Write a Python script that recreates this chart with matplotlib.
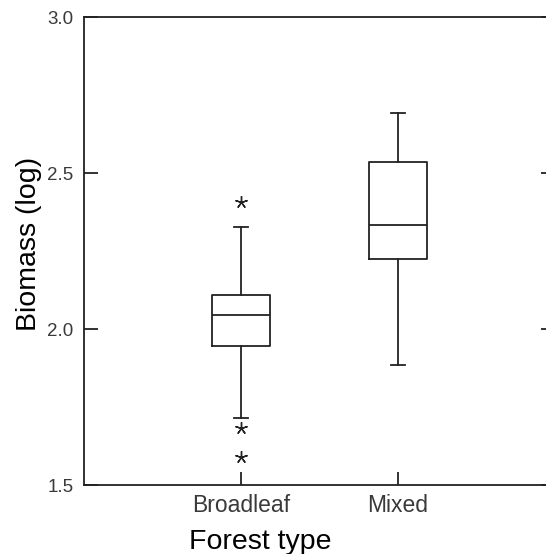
import matplotlib
matplotlib.use("Agg")
import matplotlib.pyplot as plt

# Box statistics (log biomass)
groups = ["Broadleaf", "Mixed"]
q1 = [1.947, 2.226]
med = [2.046, 2.333]
q3 = [2.110, 2.537]
whislo = [1.715, 1.887]
whishi = [2.327, 2.694]
fliers = [[2.409, 1.683, 1.592], []]

yticks = [1.5, 2.0, 2.5, 3.0]

plt.rcParams["font.family"] = ["Liberation Sans", "DejaVu Sans"]

fig = plt.figure(figsize=(5.46, 5.54), dpi=100)
ax = fig.add_axes([84 / 546, 1 - 485.3 / 554, 471 / 546, 468 / 554])

stats = []
for i, g in enumerate(groups):
    stats.append(dict(label=g, q1=q1[i], med=med[i], q3=q3[i],
                      whislo=whislo[i], whishi=whishi[i], fliers=fliers[i]))

lc = "#222222"
lw = 1.3
ax.bxp(stats, positions=[1, 2], widths=0.375, capwidths=0.083,
       boxprops=dict(color=lc, linewidth=lw),
       medianprops=dict(color=lc, linewidth=lw),
       whiskerprops=dict(color=lc, linewidth=lw),
       capprops=dict(color=lc, linewidth=lw),
       flierprops=dict(marker=(5, 2, 0), markersize=9, markeredgewidth=1.0,
                       markeredgecolor=lc, linestyle="none"))

ax.set_xlim(0, 3)
ax.set_ylim(1.5, 3.0)
ax.set_yticks(yticks)
ax.set_yticklabels([f"{v:.1f}" for v in yticks])
ax.set_xticks([1, 2])
ax.set_xticklabels(groups)

for s in ["left", "top", "bottom"]:
    ax.spines[s].set_linewidth(lw)
    ax.spines[s].set_color(lc)
ax.spines["right"].set_visible(False)

ax.tick_params(axis="y", direction="in", length=10, width=lw, color=lc,
               right=True, labelsize=13.5, labelcolor="#3a3a3a", pad=7.5)
ax.tick_params(axis="x", direction="in", length=9.5, width=lw, color=lc,
               labelsize=16.5, labelcolor="#3a3a3a", pad=6.5)

ax.set_xlabel("Forest type", fontsize=20.5, color="black")
ax.set_ylabel("Biomass (log)", fontsize=20.5, color="black")
ax.xaxis.set_label_coords((260 - 84) / 471, -0.093)
ax.yaxis.set_label_coords((42 - 84) / 471, (485.3 - 243.5) / 468)

fig.savefig("out.png", dpi=100)
